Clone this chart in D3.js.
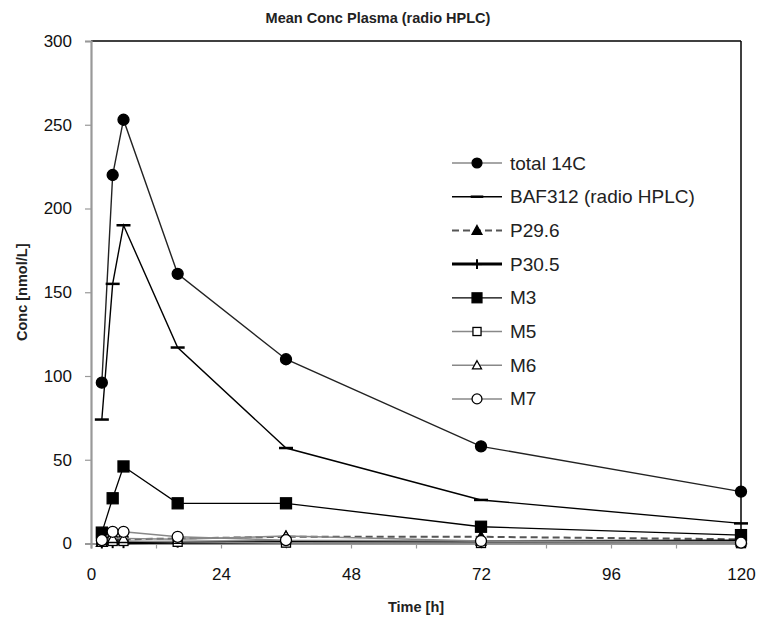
<!DOCTYPE html>
<html><head><meta charset="utf-8">
<script src="https://cdn.jsdelivr.net/npm/d3@7"></script>
<style>body{margin:0;background:#fff;} svg{display:block;} text{font-family:"Liberation Sans",Arial,sans-serif;}</style>
</head><body>
<svg id="c" width="757" height="623"></svg>
<script>
const times = [2, 4, 6, 16, 36, 72, 120];
const total14C = [96, 220, 253, 161, 110, 58, 31];
const baf312 = [74, 155, 190, 117, 57, 26, 12];
const p296 = [1, 2, 2.5, 3, 4, 4, 2.5];
const p305 = [0.3, 0.5, 0.5, 0.8, 1, 1.2, 1.5];
const m3 = [6.5, 27, 46, 24, 24, 10, 5];
const m5 = [1, 1.5, 1.5, 1, 0.5, 0.3, 0.2];
const m6 = [2, 3, 3, 2.5, 4.5, 1.5, 1];
const m7 = [2, 7, 7, 4, 2, 1.5, 0.5];
const seriesNames = ["total 14C", "BAF312 (radio HPLC)", "P29.6", "P30.5", "M3", "M5", "M6", "M7"];
const xTicks = [0, 24, 48, 72, 96, 120];
const xMinor = [12, 36, 60, 84, 108];
const yTicks = [0, 50, 100, 150, 200, 250, 300];

const styles = [
  {line:"#222", w:1.4, dash:null, marker:"circle", fill:"#000", stroke:"#000", size:5.5},
  {line:"#000", w:1.4, dash:null, marker:"dash", fill:"#000", stroke:"#000", size:7},
  {line:"#555", w:2, dash:"7,4", marker:"triangle", fill:"#000", stroke:"#000", size:5.5},
  {line:"#000", w:3, dash:null, marker:"plus", fill:"none", stroke:"#000", size:5.5},
  {line:"#000", w:1.3, dash:null, marker:"square", fill:"#000", stroke:"#000", size:5.5},
  {line:"#888", w:1.5, dash:null, marker:"square", fill:"#fff", stroke:"#000", size:4.5},
  {line:"#888", w:1.5, dash:null, marker:"triangle", fill:"#fff", stroke:"#000", size:5},
  {line:"#888", w:1.5, dash:null, marker:"circle", fill:"#fff", stroke:"#000", size:5.5}
];
const values = [total14C, baf312, p296, p305, m3, m5, m6, m7];

const svg = d3.select("#c");
const x = d3.scaleLinear().domain([0, 120]).range([91, 741]);
const y = d3.scaleLinear().domain([0, 300]).range([543.5, 41]);

// title
svg.append("text").attr("x", 378).attr("y", 23).attr("text-anchor", "middle")
  .attr("font-size", 14.5).attr("font-weight", "bold").attr("fill", "#222").text("Mean Conc Plasma (radio HPLC)");

// frame top/right
svg.append("line").attr("x1", x(0)).attr("x2", x(120)).attr("y1", y(300)).attr("y2", y(300)).attr("stroke", "#000").attr("stroke-width", 1.5);
svg.append("line").attr("x1", x(120)).attr("x2", x(120)).attr("y1", y(300)).attr("y2", y(0)).attr("stroke", "#000").attr("stroke-width", 1.5);

// y axis
const yAxis = svg.append("g").attr("transform", `translate(${x(0)},0)`)
  .call(d3.axisLeft(y).tickValues(yTicks).tickSize(6).tickPadding(13));
yAxis.select(".domain").attr("stroke", "#999").attr("stroke-width", 2.2);
yAxis.selectAll(".tick line").attr("stroke", "#999").attr("stroke-width", 1.2);
yAxis.selectAll(".tick text").attr("font-size", 17).attr("fill", "#111");

// x axis
const xAxis = svg.append("g").attr("transform", `translate(0,${y(0)})`)
  .call(d3.axisBottom(x).tickValues(xTicks).tickSize(5).tickPadding(19));
xAxis.select(".domain").attr("stroke", "#999").attr("stroke-width", 2.2);
xAxis.selectAll(".tick line").attr("stroke", "#999").attr("stroke-width", 1.2);
xAxis.selectAll(".tick text").attr("font-size", 17).attr("fill", "#111");
svg.append("g").attr("transform", `translate(0,${y(0)})`)
  .call(d3.axisBottom(x).tickValues(xMinor).tickSize(5).tickFormat(""))
  .call(g => { g.select(".domain").remove(); g.selectAll(".tick line").attr("stroke", "#999").attr("stroke-width", 1.2); });

// axis labels
svg.append("text").attr("transform", `translate(27,${(y(0)+y(300))/2}) rotate(-90)`).attr("text-anchor", "middle")
  .attr("font-size", 14.5).attr("font-weight", "bold").attr("fill", "#222").text("Conc [nmol/L]");
svg.append("text").attr("x", (x(0)+x(120))/2).attr("y", 612).attr("text-anchor", "middle")
  .attr("font-size", 14.5).attr("font-weight", "bold").attr("fill", "#222").text("Time [h]");

function drawMarker(g, st, cx, cy, scale) {
  const s = st.size * (scale || 1);
  if (st.marker === "circle") {
    g.append("circle").attr("cx", cx).attr("cy", cy).attr("r", s).attr("fill", st.fill).attr("stroke", st.stroke).attr("stroke-width", 1.3);
  } else if (st.marker === "square") {
    g.append("rect").attr("x", cx - s).attr("y", cy - s).attr("width", 2*s).attr("height", 2*s).attr("fill", st.fill).attr("stroke", st.stroke).attr("stroke-width", 1.3);
  } else if (st.marker === "triangle") {
    g.append("path").attr("d", `M${cx},${cy - s}L${cx + s},${cy + s*0.8}L${cx - s},${cy + s*0.8}Z`).attr("fill", st.fill).attr("stroke", st.stroke).attr("stroke-width", 1.3);
  } else if (st.marker === "dash") {
    g.append("line").attr("x1", cx - s).attr("x2", cx + s).attr("y1", cy).attr("y2", cy).attr("stroke", st.stroke).attr("stroke-width", 2.5);
  } else if (st.marker === "plus") {
    g.append("line").attr("x1", cx - s).attr("x2", cx + s).attr("y1", cy).attr("y2", cy).attr("stroke", st.stroke).attr("stroke-width", 2);
    g.append("line").attr("x1", cx).attr("x2", cx).attr("y1", cy - s).attr("y2", cy + s).attr("stroke", st.stroke).attr("stroke-width", 2);
  }
}

const line = d3.line().x(d => x(d[0])).y(d => y(d[1]));
const plot = svg.append("g");
values.forEach((vals, i) => {
  const st = styles[i];
  const pts = times.map((t, j) => [t, vals[j]]);
  const p = plot.append("path").attr("d", line(pts)).attr("fill", "none").attr("stroke", st.line).attr("stroke-width", st.w);
  if (st.dash) p.attr("stroke-dasharray", st.dash);
  const mg = plot.append("g");
  pts.forEach(d => drawMarker(mg, st, x(d[0]), y(d[1])));
});

// legend
const legY0 = 163, legDy = 33.7;
const leg = svg.append("g");
seriesNames.forEach((name, i) => {
  const st = styles[i];
  const ly = legY0 + i * legDy;
  const l = leg.append("line").attr("x1", 452).attr("x2", 502).attr("y1", ly).attr("y2", ly)
    .attr("stroke", i === 0 ? "#888" : st.line).attr("stroke-width", st.w);
  if (st.dash) l.attr("stroke-dasharray", st.dash);
  drawMarker(leg, st, 477, ly, 0.9);
  leg.append("text").attr("x", 510).attr("y", ly + 6.5).attr("font-size", 19).attr("fill", "#222").text(name);
});
</script>
</body></html>
